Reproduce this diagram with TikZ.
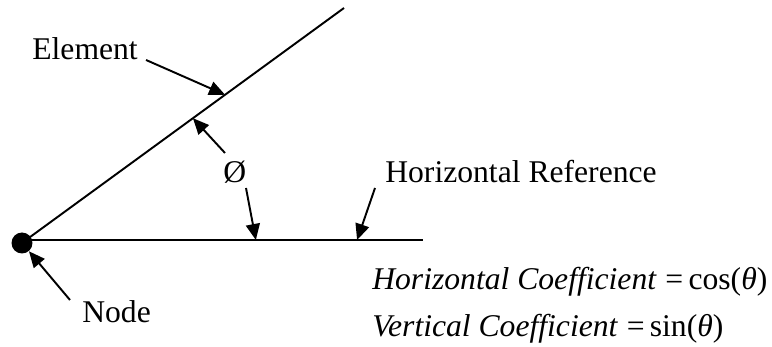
\documentclass[tikz,border=0pt]{standalone}
\usepackage{fontspec}
\setmainfont{Liberation Serif}
\usetikzlibrary{arrows.meta}
\tikzset{
  bar/.style={line width=1.1pt, draw=black},
  pointer/.style={-{Triangle[length=0.32cm,width=0.28cm]}, line width=1.1pt, draw=black},
  dot/.style={circle, fill=black, inner sep=0pt, minimum size=0.42cm},
  lbl/.style={inner sep=0pt, anchor=base west, font=\fontsize{18}{22}\selectfont},
}

\begin{document}
\begin{tikzpicture}[x=0.02cm, y=-0.02cm]
  \useasboundingbox (0,0) rectangle (772,347);

  \coordinate (org) at (26,240);
  \coordinate (eltend) at (344,8);
  \coordinate (refend) at (423,240);
  \draw[bar] (org) -- (eltend)
    coordinate[pos=0.626] (eltpt) coordinate[pos=0.525] (angtop);
  \draw[bar] (org) -- (refend)
    coordinate[pos=0.579] (angbot) coordinate[pos=0.834] (refpt);
  \node[dot] (nd) at (22,243) {};

  \node[lbl] (elt) at (32,60) {Element};
  \node[lbl] (ang) at (223,183) {Ø};
  \node[lbl] (hr) at (385,183) {Horizontal Reference};
  \node[lbl] (ndl) at (82,323) {Node};
  \node[lbl] (eqh) at (372,290) {\textit{Horizontal Coefficient}\;=\,cos(\textit{θ})};
  \node[lbl] (eqv) at (372,337) {\textit{Vertical Coefficient}\;=\,sin(\textit{θ})};

  \draw[pointer] ([shift={(8,0)}]elt.base east) -- (eltpt);
  \draw[pointer] ([shift={(2,-30)}]ang.base west) -- (angtop);
  \draw[pointer] ([shift={(23,5)}]ang.base west) -- (angbot);
  \draw[pointer] ([shift={(-10,5)}]hr.base west) -- (refpt);
  \draw[pointer] ([shift={(-12,-23)}]ndl.base west) -- (nd);
\end{tikzpicture}
\end{document}
